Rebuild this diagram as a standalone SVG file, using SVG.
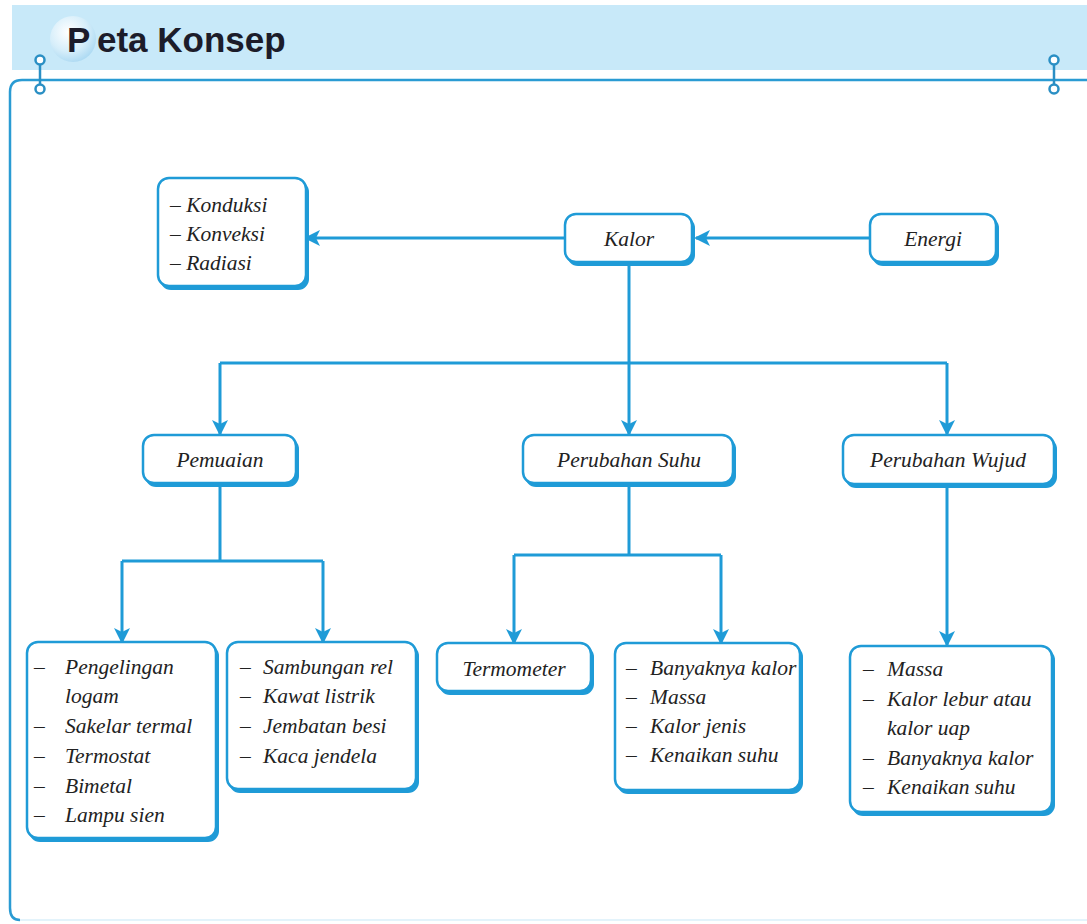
<svg xmlns="http://www.w3.org/2000/svg" width="1087" height="924" viewBox="0 0 1087 924">
<style>
.box{fill:#ffffff;stroke:#1f9bd7;stroke-width:2.5}
.sh{fill:#1f9bd7}
.t{font-family:"Liberation Serif",serif;font-style:italic;font-size:21.5px;fill:#222}
.c{text-anchor:middle}
.ln{fill:none;stroke:#1f9bd7;stroke-width:3}
.ring{fill:#ffffff;stroke:#2a8fc4;stroke-width:2.5}
</style>
<defs>
<marker id="ah" viewBox="0 0 16 16" refX="14" refY="8" markerWidth="16" markerHeight="16" markerUnits="userSpaceOnUse" orient="auto">
<path d="M0,0 L16,8 L0,16 L4,8 z" fill="#1f9bd7"/>
</marker>
<radialGradient id="ball" cx="0.4" cy="0.35" r="0.7">
<stop offset="0" stop-color="#ffffff"/>
<stop offset="0.6" stop-color="#d6eefa"/>
<stop offset="1" stop-color="#a9d8f2"/>
</radialGradient>
</defs>
<rect width="1087" height="924" fill="#ffffff"/>
<g id="header">
<rect x="12" y="5" width="1075" height="65" fill="#c8e9f9"/>
<circle cx="73" cy="39" r="23" fill="url(#ball)"/>
<text x="67" y="52" font-family="Liberation Sans,Arial,sans-serif" font-weight="bold" font-size="35" fill="#1c1c2a">P</text>
<text x="97" y="52" font-family="Liberation Sans,Arial,sans-serif" font-weight="bold" font-size="35" fill="#1c1c2a">eta Konsep</text>
</g>
<g id="frame">
<path d="M1090,80 H22 Q10,80 10,92 V908 Q10,920 20,920" fill="none" stroke="#2a9bd3" stroke-width="2.5"/>
<line x1="20" y1="920" x2="1090" y2="920" stroke="#e3f3fb" stroke-width="2"/>
<line x1="40" y1="60" x2="40" y2="88" stroke="#2a8fc4" stroke-width="2.5"/>
<circle class="ring" cx="40" cy="60" r="4.5"/>
<circle class="ring" cx="40" cy="89" r="4.5"/>
<line x1="1054" y1="60" x2="1054" y2="88" stroke="#2a8fc4" stroke-width="2.5"/>
<circle class="ring" cx="1054" cy="60" r="4.5"/>
<circle class="ring" cx="1054" cy="89" r="4.5"/>
</g>
<g id="connectors">
<line class="ln" x1="566" y1="238" x2="306" y2="238" marker-end="url(#ah)"/>
<line class="ln" x1="870" y1="238" x2="696" y2="238" marker-end="url(#ah)"/>
<polyline class="ln" points="629,264 629,363"/>
<polyline class="ln" points="220,363 947,363"/>
<line class="ln" x1="220" y1="363" x2="220" y2="434" marker-end="url(#ah)"/>
<line class="ln" x1="629" y1="363" x2="629" y2="434" marker-end="url(#ah)"/>
<line class="ln" x1="947" y1="363" x2="947" y2="434" marker-end="url(#ah)"/>
<polyline class="ln" points="220,486 220,561"/>
<polyline class="ln" points="122,561 323,561"/>
<line class="ln" x1="122" y1="561" x2="122" y2="642" marker-end="url(#ah)"/>
<line class="ln" x1="323" y1="561" x2="323" y2="642" marker-end="url(#ah)"/>
<polyline class="ln" points="629,486 629,555"/>
<polyline class="ln" points="514,555 721,555"/>
<line class="ln" x1="514" y1="555" x2="514" y2="643" marker-end="url(#ah)"/>
<line class="ln" x1="721" y1="555" x2="721" y2="643" marker-end="url(#ah)"/>
<line class="ln" x1="947" y1="487" x2="947" y2="645" marker-end="url(#ah)"/>
</g>
<g id="perpindahan">
<rect class="sh" x="160" y="181" width="149" height="109" rx="11"/>
<rect class="box" x="158" y="178" width="148" height="108" rx="11"/>
<text class="t" x="170" y="212">– Konduksi</text>
<text class="t" x="170" y="241">– Konveksi</text>
<text class="t" x="170" y="270">– Radiasi</text>
</g>
<g id="kalor">
<rect class="sh" x="567" y="217" width="128" height="49" rx="11"/>
<rect class="box" x="565" y="214" width="127" height="48" rx="11"/>
<text class="t c" x="629" y="246">Kalor</text>
</g>
<g id="energi">
<rect class="sh" x="872" y="217" width="127" height="49" rx="11"/>
<rect class="box" x="870" y="214" width="126" height="48" rx="11"/>
<text class="t c" x="933" y="246">Energi</text>
</g>
<g id="pemuaian">
<rect class="sh" x="145" y="438" width="154" height="49" rx="11"/>
<rect class="box" x="143" y="435" width="153" height="48" rx="11"/>
<text class="t c" x="220" y="467">Pemuaian</text>
</g>
<g id="perubahan-suhu">
<rect class="sh" x="525" y="438" width="211" height="49" rx="11"/>
<rect class="box" x="523" y="435" width="210" height="48" rx="11"/>
<text class="t c" x="629" y="467">Perubahan Suhu</text>
</g>
<g id="perubahan-wujud">
<rect class="sh" x="845" y="438" width="212" height="50" rx="11"/>
<rect class="box" x="843" y="435" width="211" height="49" rx="11"/>
<text class="t c" x="948" y="467">Perubahan Wujud</text>
</g>
<g id="contoh-pemuaian-1">
<rect class="sh" x="29" y="645" width="190" height="197" rx="11"/>
<rect class="box" x="27" y="642" width="189" height="196" rx="11"/>
<text class="t" x="34" y="674">–</text><text class="t" x="65" y="674">Pengelingan</text>
<text class="t" x="65" y="703">logam</text>
<text class="t" x="34" y="733">–</text><text class="t" x="65" y="733">Sakelar termal</text>
<text class="t" x="34" y="763">–</text><text class="t" x="65" y="763">Termostat</text>
<text class="t" x="34" y="793">–</text><text class="t" x="65" y="793">Bimetal</text>
<text class="t" x="34" y="822">–</text><text class="t" x="65" y="822">Lampu sien</text>
</g>
<g id="contoh-pemuaian-2">
<rect class="sh" x="229" y="645" width="190" height="148" rx="11"/>
<rect class="box" x="227" y="642" width="189" height="147" rx="11"/>
<text class="t" x="240" y="674">–</text><text class="t" x="263" y="674">Sambungan rel</text>
<text class="t" x="240" y="703">–</text><text class="t" x="263" y="703">Kawat listrik</text>
<text class="t" x="240" y="733">–</text><text class="t" x="263" y="733">Jembatan besi</text>
<text class="t" x="240" y="763">–</text><text class="t" x="263" y="763">Kaca jendela</text>
</g>
<g id="termometer">
<rect class="sh" x="439" y="646" width="155" height="49" rx="11"/>
<rect class="box" x="437" y="643" width="154" height="48" rx="11"/>
<text class="t c" x="514" y="676">Termometer</text>
</g>
<g id="faktor-suhu">
<rect class="sh" x="617" y="646" width="186" height="148" rx="11"/>
<rect class="box" x="615" y="643" width="185" height="147" rx="11"/>
<text class="t" x="626" y="675">–</text><text class="t" x="650" y="675">Banyaknya kalor</text>
<text class="t" x="626" y="704">–</text><text class="t" x="650" y="704">Massa</text>
<text class="t" x="626" y="733">–</text><text class="t" x="650" y="733">Kalor jenis</text>
<text class="t" x="626" y="762">–</text><text class="t" x="650" y="762">Kenaikan suhu</text>
</g>
<g id="faktor-wujud">
<rect class="sh" x="852" y="649" width="203" height="167" rx="11"/>
<rect class="box" x="850" y="646" width="202" height="166" rx="11"/>
<text class="t" x="863" y="676">–</text><text class="t" x="887" y="676">Massa</text>
<text class="t" x="863" y="706">–</text><text class="t" x="887" y="706">Kalor lebur atau</text>
<text class="t" x="887" y="735">kalor uap</text>
<text class="t" x="863" y="765">–</text><text class="t" x="887" y="765">Banyaknya kalor</text>
<text class="t" x="863" y="794">–</text><text class="t" x="887" y="794">Kenaikan suhu</text>
</g>
</svg>
